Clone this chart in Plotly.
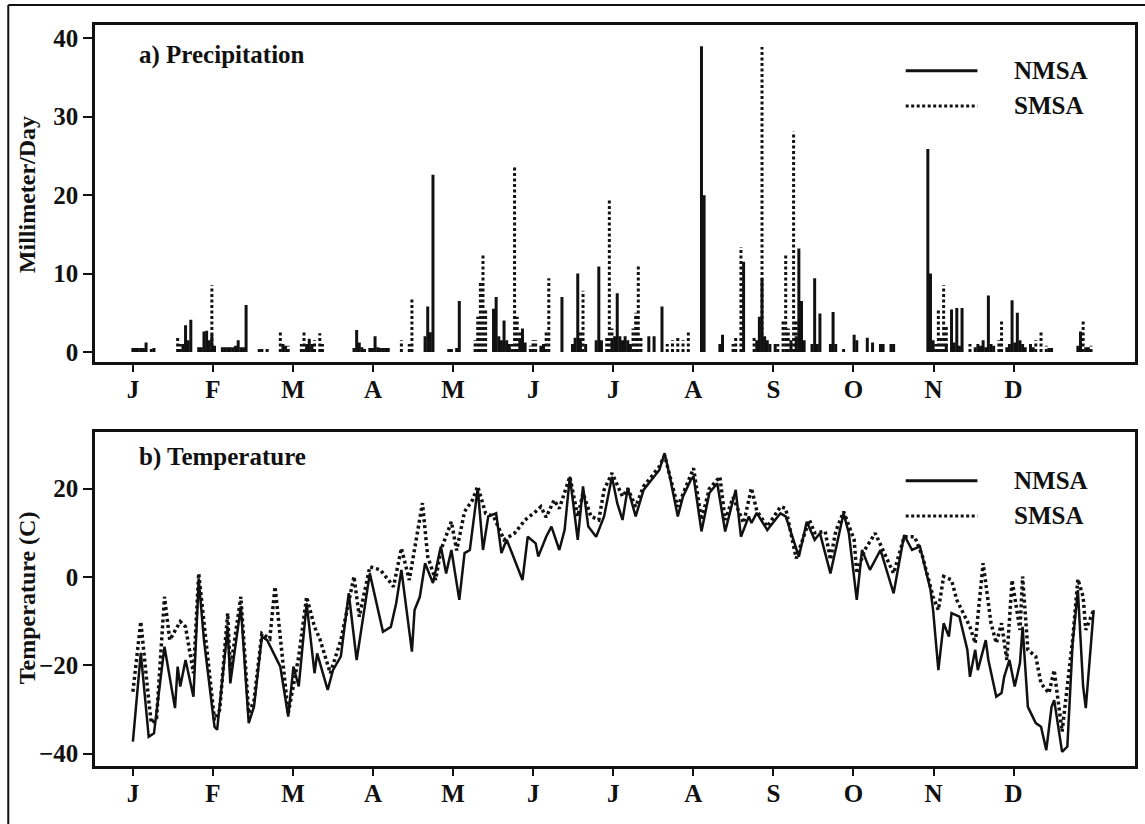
import plotly.graph_objects as go

# ---------------- data ----------------
months = ["J", "F", "M", "A", "M", "J", "J", "A", "S", "O", "N", "D"]
month_pos = [i * 365 / 12 for i in range(12)]

# Precipitation (mm/day), day of year
nmsa_p_day = [0, 1, 2, 3, 4, 5, 8, 19, 20, 21, 22, 25, 26, 27, 28, 29, 30, 31,
              34, 35, 36, 37, 38, 39, 40, 41, 42, 43, 57, 58, 66, 67, 68,
              84, 85, 86, 87, 90, 91, 92, 93, 94, 95, 96, 97,
              111, 112, 113, 114, 123, 124,
              137, 138, 139, 140, 141, 142, 143, 147, 148, 149, 155, 156, 163,
              167, 168, 169, 170, 172, 176, 177, 178,
              182, 183, 184, 185, 186, 187, 188, 189, 196, 198, 201,
              216, 217, 223, 224, 232,
              237, 238, 239, 240, 241, 242, 244,
              250, 252, 253, 254, 255, 258, 259, 260, 261, 265, 266, 267,
              274, 275, 279, 281, 284, 285, 288, 289,
              302, 303, 304, 309, 311, 312, 313, 314, 315,
              320, 321, 322, 323, 324, 325, 326, 327,
              332, 333, 334, 335, 336, 337, 338, 339, 341, 342,
              348, 349, 359, 360, 362, 363]
nmsa_p_mm = [0.5, 0.5, 0.5, 0.5, 0.5, 1.2, 0.5, 1.0, 3.4, 1.5, 4.1, 0.6, 0.6, 2.6, 2.7, 1.5, 2.2, 0.8,
             0.6, 0.6, 0.6, 0.6, 0.6, 0.8, 1.5, 0.6, 0.6, 6.0, 1.0, 0.8, 1.0, 1.7, 1.0,
             0.5, 2.8, 1.2, 0.6, 0.5, 0.5, 2.0, 0.6, 0.5, 0.5, 0.5, 0.5,
             2.0, 5.8, 2.5, 22.6, 0.5, 6.5,
             5.5, 7.0, 2.0, 1.5, 4.0, 1.5, 1.0, 1.5, 3.0, 1.2, 0.8, 1.0, 7.0,
             1.0, 1.8, 10.0, 1.5, 1.0, 1.5, 10.9, 1.5,
             1.5, 2.0, 7.5, 2.0, 1.5, 2.0, 1.5, 1.0, 2.0, 2.0, 5.8,
             39.0, 20.0, 1.0, 2.2, 11.5,
             1.5, 4.5, 9.4, 2.0, 1.5, 1.0, 1.0,
             1.5, 2.0, 13.2, 6.5, 1.5, 1.0, 9.4, 1.0, 4.9, 1.0, 5.1, 1.0,
             2.2, 1.5, 1.8, 1.2, 1.0, 1.0, 1.0, 1.0,
             25.9, 10.0, 1.5, 1.0, 5.4, 1.2, 5.6, 0.8, 5.6,
             0.6, 1.0, 0.8, 1.5, 0.6, 7.2, 1.0, 0.8,
             0.6, 1.0, 6.6, 1.2, 5.0, 1.5, 1.0, 0.6, 1.0, 0.6,
             0.5, 0.5, 0.8, 2.6, 0.6, 0.6]

smsa_p_day = [7, 17, 18, 20, 30, 48, 49, 51, 56, 59, 64, 65, 69, 71, 72, 88,
              102, 105, 106, 120, 121, 130, 131, 132, 133, 134,
              144, 145, 146, 147, 151, 152, 153, 157, 158, 170, 171,
              180, 181, 182, 190, 191, 192, 193, 203, 205, 207, 209, 211,
              228, 229, 231, 236, 239, 245, 247, 248, 249, 251, 252, 270,
              305, 306, 307, 308, 309, 318, 329, 330, 343, 345, 347, 360, 361, 364]
smsa_p_mm = [0.5, 2.0, 1.0, 1.2, 8.5, 0.5, 0.5, 0.5, 2.8, 0.8, 1.0, 2.6, 1.5, 2.4, 1.0, 0.6,
             1.5, 1.0, 6.8, 0.5, 0.5, 1.5, 4.5, 9.0, 12.6, 5.5,
             1.0, 23.6, 4.5, 2.5, 0.8, 1.5, 1.5, 2.5, 9.4, 2.5, 7.8,
             2.0, 19.6, 3.0, 3.0, 5.0, 11.1, 2.0, 1.0, 1.5, 2.0, 1.5, 2.5,
             1.0, 2.0, 13.4, 2.0, 38.9, 1.0, 4.0, 12.6, 3.0, 28.1, 4.0, 0.5,
             1.0, 5.6, 2.0, 8.5, 3.5, 1.0, 1.5, 4.1, 1.5, 2.8, 0.8, 1.0, 3.9, 0.8]

# Temperature (C)
nmsa_t_day = [0, 3, 6, 8, 12, 16, 17, 18, 20, 23, 25, 27, 31, 32, 35, 36, 37, 41, 44, 46,
              49, 51, 56, 59, 61, 63, 66, 69, 70, 74, 76, 79, 82, 85, 90, 95, 98, 100,
              102, 106, 107, 109, 111, 114, 117, 119, 121, 124, 126, 128, 131, 133, 135,
              138, 140, 142, 144, 148, 150, 153, 154, 157, 159, 162, 164, 166, 169, 171,
              173, 176, 179, 182, 184, 186, 188, 191, 194, 196, 200, 202, 204, 207, 209,
              212, 213, 216, 219, 222, 225, 229, 231, 234, 235, 237, 241, 246, 248, 253,
              256, 259, 261, 265, 267, 270, 272, 275, 277, 280, 284, 286, 289, 293, 296,
              299, 303, 304, 306, 308, 310, 311, 314, 317, 318, 320, 321, 324, 325, 328,
              330, 331, 333, 335, 337, 338, 340, 343, 345, 347, 349, 350, 353, 355, 357,
              359, 361, 362, 365]
nmsa_t = [-37.3, -17.2, -36.2, -35.4, -15.8, -29.7, -20.3, -24.8, -18.8, -27.1, -0.5, -14.3,
          -33.9, -34.6, -17.3, -11.3, -24.1, -6.7, -33.1, -29.4, -13.5, -14.3, -20.3, -31.6,
          -20.3, -24.8, -6.0, -21.8, -17.3, -25.6, -21.1, -18.0, -3.7, -18.8, 0.8, -12.4,
          -11.3, -6.0, 1.6, -16.9, -7.5, -4.5, 3.1, -1.4, 6.9, 0.8, 6.1, -5.2, 5.4, 6.1,
          20.1, 6.1, 13.7, 14.4, 5.4, 8.4, 5.4, -0.7, 9.1, 7.6, 4.6, 9.1, 11.4, 6.1, 10.6,
          22.7, 8.4, 20.5, 11.4, 9.1, 13.7, 22.7, 16.7, 12.9, 20.1, 13.7, 19.7, 21.2, 24.2,
          28.0, 22.7, 13.7, 18.2, 22.0, 22.7, 10.3, 19.0, 21.2, 10.3, 19.7, 9.1, 13.7, 12.2,
          14.5, 10.6, 14.4, 13.7, 4.6, 12.5, 8.4, 9.9, 0.8, 6.1, 14.4, 9.9, -5.2, 6.1, 1.6,
          6.1, 2.3, -3.7, 9.5, 6.1, 6.9, -2.9, -7.5, -21.1, -10.5, -13.5, -8.2, -9.0, -16.5,
          -22.6, -16.5, -21.1, -14.3, -18.8, -27.1, -26.3, -22.6, -18.8, -24.8, -19.5,
          -11.3, -29.4, -33.1, -33.9, -39.2, -29.4, -27.9, -39.6, -38.4, -15.0, -3.0,
          -24.8, -29.7, -7.5]

smsa_t_day = [0, 3, 6, 7, 9, 12, 14, 16, 18, 20, 23, 25, 27, 31, 33, 36, 37, 41, 44, 46,
              49, 52, 54, 56, 59, 63, 66, 69, 71, 75, 79, 84, 86, 90, 94, 98, 99, 102,
              105, 110, 112, 115, 117, 121, 123, 126, 129, 131, 134, 137, 141, 145, 149,
              153, 155, 157, 160, 162, 166, 169, 171, 174, 177, 179, 182, 186, 188, 191,
              194, 197, 200, 202, 207, 213, 216, 219, 223, 225, 228, 232, 235, 237, 241,
              246, 248, 252, 257, 259, 263, 265, 267, 270, 274, 275, 278, 282, 286, 289,
              293, 297, 300, 304, 306, 308, 311, 313, 318, 320, 323, 326, 328, 330, 332,
              334, 335, 337, 338, 340, 343, 345, 348, 350, 353, 357, 359, 361, 362, 365]
smsa_t = [-26.0, -10.1, -27.9, -33.1, -32.0, -4.5, -14.3, -12.0, -10.1, -11.3, -21.8, 0.8,
          -10.0, -32.4, -30.0, -8.2, -21.1, -4.5, -30.9, -28.0, -12.8, -14.0, -2.2, -14.3,
          -30.9, -18.0, -4.5, -11.3, -14.0, -21.8, -14.3, 0.1, -9.0, 2.3, 1.6, -1.4, -2.2,
          6.5, -0.7, 16.7, 4.6, -0.7, 6.1, 12.5, 6.0, 14.8, 17.4, 20.5, 14.4, 13.7, 8.4,
          9.9, 12.9, 14.8, 15.9, 13.5, 17.4, 15.5, 22.7, 13.7, 19.0, 13.7, 12.9, 19.7, 23.5,
          18.2, 20.0, 15.9, 20.5, 22.7, 25.0, 27.5, 15.9, 24.6, 12.9, 20.0, 22.7, 12.9, 18.0,
          12.2, 20.1, 15.0, 11.4, 15.9, 15.5, 4.2, 12.9, 10.0, 10.3, 3.9, 10.3, 14.8, 8.4,
          0.8, 6.1, 9.9, 4.6, 0.8, 9.1, 9.1, 4.6, -4.5, -7.5, 0.1, -0.7, -5.2, -11.3, -15.0,
          3.1, -10.5, -15.0, -10.5, -18.8, -0.7, -4.5, -12.0, 0.1, -16.5, -18.0, -24.1,
          -26.3, -21.1, -35.0, -14.3, -0.5, -4.5, -12.0, -7.5]


def stems(days, vals):
    xs, ys = [], []
    for d, v in zip(days, vals):
        xs += [d, d, None]
        ys += [0, v, None]
    return xs, ys


FONT = "Liberation Serif"
BLACK = "#111111"

fig = go.Figure()

xs, ys = stems(nmsa_p_day, nmsa_p_mm)
fig.add_trace(go.Scatter(x=xs, y=ys, mode="lines", name="NMSA",
                         line=dict(color=BLACK, width=3), xaxis="x", yaxis="y",
                         showlegend=False))
xs, ys = stems(smsa_p_day, smsa_p_mm)
fig.add_trace(go.Scatter(x=xs, y=ys, mode="lines", name="SMSA",
                         line=dict(color=BLACK, width=3, dash="3px,2.5px"), xaxis="x", yaxis="y",
                         showlegend=False))
fig.add_trace(go.Scatter(x=smsa_t_day, y=smsa_t, mode="lines", name="SMSA",
                         line=dict(color=BLACK, width=3.5, dash="3px,3px"), xaxis="x2", yaxis="y2",
                         showlegend=False))
fig.add_trace(go.Scatter(x=nmsa_t_day, y=nmsa_t, mode="lines", name="NMSA",
                         line=dict(color=BLACK, width=2.5), xaxis="x2", yaxis="y2",
                         showlegend=False))

tickfont = dict(family=FONT, size=25, color=BLACK, weight="bold")
xcommon = dict(range=[-14.4, 380.7], tickvals=month_pos, ticktext=months,
               showline=True, linewidth=2.5, linecolor=BLACK, mirror=True,
               ticks="outside", ticklen=7, tickwidth=2, tickcolor=BLACK,
               ticklabelstandoff=-4,
               showgrid=False, zeroline=False, tickfont=tickfont)
ycommon = dict(showline=True, linewidth=2.5, linecolor=BLACK, mirror=True,
               ticks="outside", ticklen=9, tickwidth=2, tickcolor=BLACK,
               showgrid=False, zeroline=False, tickfont=tickfont)

fig.update_layout(
    width=1145, height=824,
    margin=dict(l=95, r=7, t=25, b=58),
    paper_bgcolor="white", plot_bgcolor="white",
    showlegend=False,
    xaxis=dict(domain=[0, 1], anchor="y", **xcommon),
    yaxis=dict(domain=[0.545, 1], anchor="x", range=[-1.3, 41.7],
               tickvals=[0, 10, 20, 30, 40], **ycommon),
    xaxis2=dict(domain=[0, 1], anchor="y2", **xcommon),
    yaxis2=dict(domain=[0, 0.4507], anchor="x2", range=[-42.8, 32.8],
                tickvals=[-40, -20, 0, 20], **ycommon),
)

lblfont = dict(family=FONT, size=25, color=BLACK, weight="bold")
annots = [
    dict(text="a) Precipitation", x=0.0402, y=0.9595),
    dict(text="b) Temperature", x=0.0402, y=0.417),
    dict(text="NMSA", x=0.882, y=0.9383),
    dict(text="SMSA", x=0.882, y=0.8907),
    dict(text="NMSA", x=0.882, y=0.385),
    dict(text="SMSA", x=0.882, y=0.3374),
]
for a in annots:
    fig.add_annotation(xref="paper", yref="paper", xanchor="left", yanchor="middle",
                       showarrow=False, font=lblfont, **a)

# y-axis titles
ytfont = dict(family=FONT, size=24, color=BLACK, weight="bold")
fig.add_annotation(xref="paper", yref="paper", x=-0.0652, y=0.7706, text="Millimeter/Day",
                   textangle=-90, showarrow=False, xanchor="center", yanchor="middle", font=ytfont)
fig.add_annotation(xref="paper", yref="paper", x=-0.0652, y=0.2267, text="Temperature (C)",
                   textangle=-90, showarrow=False, xanchor="center", yanchor="middle", font=ytfont)

legend_lines = [(0.9383, None), (0.8907, "3px,2.5px"), (0.385, None), (0.3374, "3px,2.5px")]
for yy, dsh in legend_lines:
    fig.add_shape(type="line", xref="paper", yref="paper", x0=0.7795, x1=0.8485, y0=yy, y1=yy,
                  line=dict(color=BLACK, width=3, dash=dsh) if dsh else dict(color=BLACK, width=3))

# outer frame of the figure page
fig.add_shape(type="line", xref="paper", yref="paper", x0=-0.0834, x1=-0.0834, y0=-0.1, y1=1.027,
              line=dict(color=BLACK, width=2))
fig.add_shape(type="line", xref="paper", yref="paper", x0=-0.0834, x1=1.05, y0=1.027, y1=1.027,
              line=dict(color=BLACK, width=2))

fig.write_html("out.html")
